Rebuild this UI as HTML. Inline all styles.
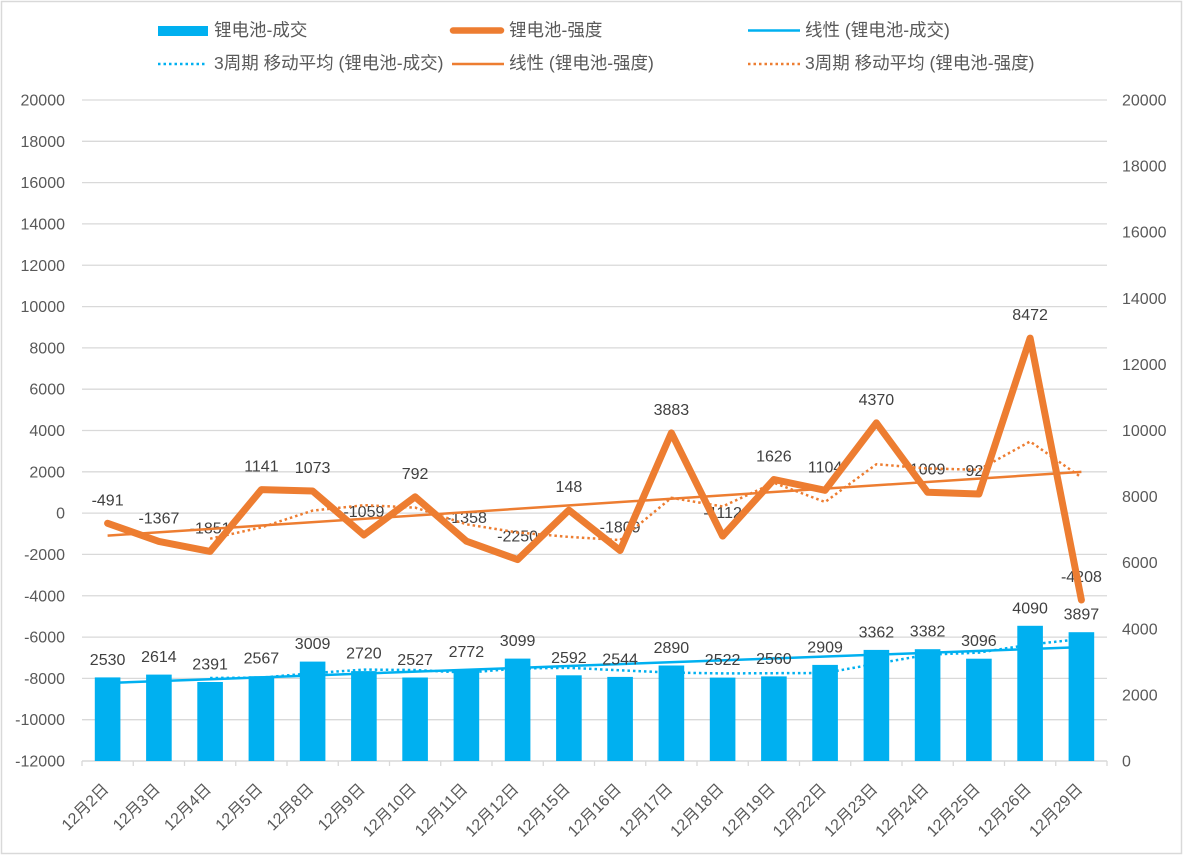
<!DOCTYPE html>
<html><head><meta charset="utf-8"><style>
html,body{margin:0;padding:0;background:#fff;}
svg{display:block;font-family:"Liberation Sans","Noto Sans CJK SC",sans-serif;}
.ax{fill:#595959;font-size:16px;}
.dl{fill:#404040;font-size:16px;text-anchor:middle;}
.lg{fill:#595959;font-size:17.5px;}
</style></head><body>
<svg width="1184" height="856" viewBox="0 0 1184 856" xmlns="http://www.w3.org/2000/svg">
<rect x="0" y="0" width="1184" height="856" fill="#fff"/>
<rect x="1.5" y="1.5" width="1180" height="852" fill="none" stroke="#d9d9d9" stroke-width="1.5"/>

<!-- legend -->
<rect x="158" y="26" width="50" height="10" fill="#00B0F0"/>
<text class="lg" x="214" y="36">锂电池-成交</text>
<line x1="453" y1="30.5" x2="501" y2="30.5" stroke="#ED7D31" stroke-width="6.5" stroke-linecap="round"/>
<text class="lg" x="509" y="36">锂电池-强度</text>
<line x1="748" y1="30.5" x2="800" y2="30.5" stroke="#00B0F0" stroke-width="2.5"/>
<text class="lg" x="805" y="36">线性 (锂电池-成交)</text>
<line x1="158" y1="64" x2="205" y2="64" stroke="#00B0F0" stroke-width="2.5" stroke-dasharray="2.5 3"/>
<text class="lg" x="214" y="69">3周期 移动平均 (锂电池-成交)</text>
<line x1="452" y1="64" x2="504" y2="64" stroke="#ED7D31" stroke-width="2.5"/>
<text class="lg" x="509" y="69">线性 (锂电池-强度)</text>
<line x1="748" y1="64" x2="800" y2="64" stroke="#ED7D31" stroke-width="2.5" stroke-dasharray="2.5 3"/>
<text class="lg" x="805" y="69">3周期 移动平均 (锂电池-强度)</text>

<!-- gridlines -->
<g stroke="#d9d9d9" stroke-width="1.3">
<line x1="82" y1="100" x2="1107" y2="100"/>
<line x1="82" y1="141.3" x2="1107" y2="141.3"/>
<line x1="82" y1="182.6" x2="1107" y2="182.6"/>
<line x1="82" y1="223.9" x2="1107" y2="223.9"/>
<line x1="82" y1="265.25" x2="1107" y2="265.25"/>
<line x1="82" y1="306.6" x2="1107" y2="306.6"/>
<line x1="82" y1="347.9" x2="1107" y2="347.9"/>
<line x1="82" y1="389.2" x2="1107" y2="389.2"/>
<line x1="82" y1="430.5" x2="1107" y2="430.5"/>
<line x1="82" y1="471.8" x2="1107" y2="471.8"/>
<line x1="82" y1="513.1" x2="1107" y2="513.1"/>
<line x1="82" y1="554.4" x2="1107" y2="554.4"/>
<line x1="82" y1="595.75" x2="1107" y2="595.75"/>
<line x1="82" y1="637.1" x2="1107" y2="637.1"/>
<line x1="82" y1="678.4" x2="1107" y2="678.4"/>
<line x1="82" y1="719.7" x2="1107" y2="719.7"/>
<line x1="82" y1="761" x2="1107" y2="761" stroke-width="1.6"/>
</g>
<!-- ticks -->
<g stroke="#d9d9d9" stroke-width="1.3">
<line x1="82" y1="761" x2="82" y2="766"/><line x1="133.25" y1="761" x2="133.25" y2="766"/>
<line x1="184.5" y1="761" x2="184.5" y2="766"/><line x1="235.75" y1="761" x2="235.75" y2="766"/>
<line x1="287" y1="761" x2="287" y2="766"/><line x1="338.25" y1="761" x2="338.25" y2="766"/>
<line x1="389.5" y1="761" x2="389.5" y2="766"/><line x1="440.75" y1="761" x2="440.75" y2="766"/>
<line x1="492" y1="761" x2="492" y2="766"/><line x1="543.25" y1="761" x2="543.25" y2="766"/>
<line x1="594.5" y1="761" x2="594.5" y2="766"/><line x1="645.75" y1="761" x2="645.75" y2="766"/>
<line x1="697" y1="761" x2="697" y2="766"/><line x1="748.25" y1="761" x2="748.25" y2="766"/>
<line x1="799.5" y1="761" x2="799.5" y2="766"/><line x1="850.75" y1="761" x2="850.75" y2="766"/>
<line x1="902" y1="761" x2="902" y2="766"/><line x1="953.25" y1="761" x2="953.25" y2="766"/>
<line x1="1004.5" y1="761" x2="1004.5" y2="766"/><line x1="1055.75" y1="761" x2="1055.75" y2="766"/>
<line x1="1107" y1="761" x2="1107" y2="766"/>
</g>

<!-- left axis labels -->
<g class="ax" text-anchor="end">
<text x="65" y="105.5">20000</text>
<text x="65" y="146.8">18000</text>
<text x="65" y="188.1">16000</text>
<text x="65" y="229.4">14000</text>
<text x="65" y="270.75">12000</text>
<text x="65" y="312.1">10000</text>
<text x="65" y="353.4">8000</text>
<text x="65" y="394.7">6000</text>
<text x="65" y="436">4000</text>
<text x="65" y="477.3">2000</text>
<text x="65" y="518.6">0</text>
<text x="65" y="559.9">-2000</text>
<text x="65" y="601.25">-4000</text>
<text x="65" y="642.6">-6000</text>
<text x="65" y="683.9">-8000</text>
<text x="65" y="725.2">-10000</text>
<text x="65" y="766.5">-12000</text>
</g>
<!-- right axis labels -->
<g class="ax">
<text x="1122" y="105.5">20000</text>
<text x="1122" y="171.6">18000</text>
<text x="1122" y="237.7">16000</text>
<text x="1122" y="303.8">14000</text>
<text x="1122" y="369.9">12000</text>
<text x="1122" y="436">10000</text>
<text x="1122" y="502.1">8000</text>
<text x="1122" y="568.2">6000</text>
<text x="1122" y="634.3">4000</text>
<text x="1122" y="700.4">2000</text>
<text x="1122" y="766.5">0</text>
</g>

<!-- bars -->
<g fill="#00B0F0">
<rect x="94.8" y="677.4" width="25.6" height="83.6"/>
<rect x="146.1" y="674.6" width="25.6" height="86.4"/>
<rect x="197.3" y="682.0" width="25.6" height="79.0"/>
<rect x="248.6" y="676.2" width="25.6" height="84.8"/>
<rect x="299.8" y="661.6" width="25.6" height="99.4"/>
<rect x="351.1" y="671.1" width="25.6" height="89.9"/>
<rect x="402.3" y="677.5" width="25.6" height="83.5"/>
<rect x="453.6" y="669.4" width="25.6" height="91.6"/>
<rect x="504.8" y="658.6" width="25.6" height="102.4"/>
<rect x="556.1" y="675.3" width="25.6" height="85.7"/>
<rect x="607.3" y="676.9" width="25.6" height="84.1"/>
<rect x="658.6" y="665.5" width="25.6" height="95.5"/>
<rect x="709.8" y="677.6" width="25.6" height="83.4"/>
<rect x="761.1" y="676.4" width="25.6" height="84.6"/>
<rect x="812.3" y="664.9" width="25.6" height="96.1"/>
<rect x="863.6" y="649.9" width="25.6" height="111.1"/>
<rect x="914.8" y="649.2" width="25.6" height="111.8"/>
<rect x="966.1" y="658.7" width="25.6" height="102.3"/>
<rect x="1017.3" y="625.8" width="25.6" height="135.2"/>
<rect x="1068.6" y="632.2" width="25.6" height="128.8"/>
</g>

<!-- blue trend + MA -->
<line x1="107.6" y1="683.0" x2="1081.4" y2="647.1" stroke="#00B0F0" stroke-width="2.5"/>
<polyline fill="none" stroke="#00B0F0" stroke-width="2.5" stroke-dasharray="2.5 3" stroke-linejoin="round"
points="210.1,678.0 261.4,677.6 312.6,673.2 363.9,669.6 415.1,670.0 466.4,672.7 517.6,668.5 568.9,667.8 620.1,670.3 671.4,672.6 722.6,673.4 773.9,673.2 825.1,673.0 876.4,663.7 927.6,654.7 978.9,652.6 1030.1,644.6 1081.4,638.9"/>

<!-- bar data labels -->
<g class="dl">
<text x="107.6" y="664.9">2530</text>
<text x="158.9" y="662.1">2614</text>
<text x="210.1" y="669.5">2391</text>
<text x="261.4" y="663.7">2567</text>
<text x="312.6" y="649.1">3009</text>
<text x="363.9" y="658.6">2720</text>
<text x="415.1" y="665.0">2527</text>
<text x="466.4" y="656.9">2772</text>
<text x="517.6" y="646.1">3099</text>
<text x="568.9" y="662.8">2592</text>
<text x="620.1" y="664.4">2544</text>
<text x="671.4" y="653.0">2890</text>
<text x="722.6" y="665.1">2522</text>
<text x="773.9" y="663.9">2560</text>
<text x="825.1" y="652.4">2909</text>
<text x="876.4" y="637.4">3362</text>
<text x="927.6" y="636.7">3382</text>
<text x="978.9" y="646.2">3096</text>
<text x="1030.1" y="613.3">4090</text>
<text x="1081.4" y="619.7">3897</text>
</g>

<!-- orange data labels -->
<g class="dl">
<text x="107.6" y="505.3">-491</text>
<text x="158.9" y="523.4">-1367</text>
<text x="210.1" y="533.4">-1851</text>
<text x="261.4" y="471.6">1141</text>
<text x="312.6" y="473.0">1073</text>
<text x="363.9" y="517.0">-1059</text>
<text x="415.1" y="478.8">792</text>
<text x="466.4" y="523.2">-1358</text>
<text x="517.6" y="541.6">-2250</text>
<text x="568.9" y="492.1">148</text>
<text x="620.1" y="532.5">-1809</text>
<text x="671.4" y="414.9">3883</text>
<text x="722.6" y="518.1">-1112</text>
<text x="773.9" y="461.5">1626</text>
<text x="825.1" y="472.3">1104</text>
<text x="876.4" y="404.9">4370</text>
<text x="927.6" y="474.3">1009</text>
<text x="978.9" y="476.0">927</text>
<text x="1030.1" y="320.1">8472</text>
<text x="1081.4" y="582.0">-4208</text>
</g>

<!-- orange main line -->
<polyline fill="none" stroke="#ED7D31" stroke-width="7" stroke-linejoin="round" stroke-linecap="round"
points="107.6,523.3 158.9,541.4 210.1,551.4 261.4,489.6 312.6,491.0 363.9,535.0 415.1,496.8 466.4,541.2 517.6,559.6 568.9,510.1 620.1,550.5 671.4,432.9 722.6,536.1 773.9,479.5 825.1,490.3 876.4,422.9 927.6,492.3 978.9,494.0 1030.1,338.1 1081.4,600.0"/>
<!-- orange trend + MA -->
<line x1="107.6" y1="535.6" x2="1081.4" y2="471.9" stroke="#ED7D31" stroke-width="2.5"/>
<polyline fill="none" stroke="#ED7D31" stroke-width="2.5" stroke-dasharray="2.5 3" stroke-linejoin="round"
points="210.1,538.7 261.4,527.4 312.6,510.6 363.9,505.2 415.1,507.6 466.4,524.3 517.6,532.5 568.9,536.9 620.1,540.1 671.4,497.8 722.6,506.5 773.9,482.8 825.1,502.0 876.4,464.2 927.6,468.5 978.9,469.7 1030.1,441.5 1081.4,477.4"/>

<!-- x labels -->
<g class="ax" text-anchor="end">
<text transform="translate(109.6,790) rotate(-45)">12月2日</text>
<text transform="translate(160.9,790) rotate(-45)">12月3日</text>
<text transform="translate(212.1,790) rotate(-45)">12月4日</text>
<text transform="translate(263.4,790) rotate(-45)">12月5日</text>
<text transform="translate(314.6,790) rotate(-45)">12月8日</text>
<text transform="translate(365.9,790) rotate(-45)">12月9日</text>
<text transform="translate(417.1,790) rotate(-45)">12月10日</text>
<text transform="translate(468.4,790) rotate(-45)">12月11日</text>
<text transform="translate(519.6,790) rotate(-45)">12月12日</text>
<text transform="translate(570.9,790) rotate(-45)">12月15日</text>
<text transform="translate(622.1,790) rotate(-45)">12月16日</text>
<text transform="translate(673.4,790) rotate(-45)">12月17日</text>
<text transform="translate(724.6,790) rotate(-45)">12月18日</text>
<text transform="translate(775.9,790) rotate(-45)">12月19日</text>
<text transform="translate(827.1,790) rotate(-45)">12月22日</text>
<text transform="translate(878.4,790) rotate(-45)">12月23日</text>
<text transform="translate(929.6,790) rotate(-45)">12月24日</text>
<text transform="translate(980.9,790) rotate(-45)">12月25日</text>
<text transform="translate(1032.1,790) rotate(-45)">12月26日</text>
<text transform="translate(1083.4,790) rotate(-45)">12月29日</text>
</g>
</svg>
</body></html>
